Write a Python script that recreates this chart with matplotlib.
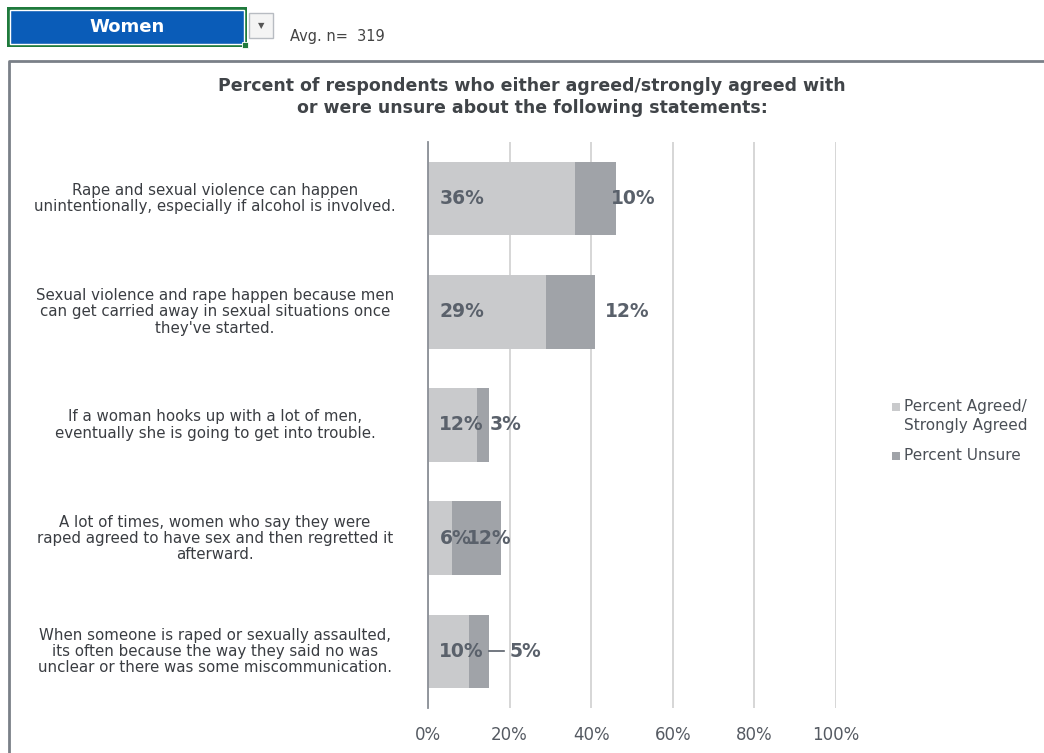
import matplotlib.pyplot as plt
from matplotlib.patches import Rectangle
from matplotlib.lines import Line2D

W, H = 1044, 753

statements = [
    "Rape and sexual violence can happen\nunintentionally, especially if alcohol is involved.",
    "Sexual violence and rape happen because men\ncan get carried away in sexual situations once\nthey've started.",
    "If a woman hooks up with a lot of men,\neventually she is going to get into trouble.",
    "A lot of times, women who say they were\nraped agreed to have sex and then regretted it\nafterward.",
    "When someone is raped or sexually assaulted,\nits often because the way they said no was\nunclear or there was some miscommunication.",
]
agreed = [36, 29, 12, 6, 10]
unsure = [10, 12, 3, 12, 5]
ticks = [0, 20, 40, 60, 80, 100]
tick_labels = ["0%", "20%", "40%", "60%", "80%", "100%"]

c_agree = '#c9cacc'
c_unsure = '#a0a3a8'
c_text = '#5a616b'

fig = plt.figure(figsize=(W / 100, H / 100), dpi=100)

def px(x, y):
    return x / W, 1 - y / H

# header widgets
fig.patches.append(Rectangle(px(7, 47), 240 / W, 40 / H, transform=fig.transFigure,
                             facecolor='#1f7a3c', edgecolor='none'))
fig.patches.append(Rectangle(px(10, 44), 234 / W, 34 / H, transform=fig.transFigure,
                             facecolor='#0a5cb8', edgecolor='white', linewidth=1))
fig.text(*px(127, 27), "Women", color='white', fontsize=13, fontweight='bold',
         ha='center', va='center')
fig.patches.append(Rectangle(px(242, 48), 6 / W, 6 / H, transform=fig.transFigure,
                             facecolor='#1f7a3c', edgecolor='white', linewidth=0.6))
fig.patches.append(Rectangle(px(249, 38), 24 / W, 25 / H, transform=fig.transFigure,
                             facecolor='#f4f4f4', edgecolor='#b8bcc2', linewidth=1))
fig.text(*px(261, 26), "\u25bc", color='#555555', fontsize=6, ha='center', va='center')
fig.text(*px(290, 37), "Avg. n=  319", color='#444444', fontsize=10.5, ha='left', va='center')

# outer frame
fig.lines.append(Line2D([px(9, 0)[0], px(9, 0)[0], 1.0], [0, px(0, 61)[1], px(0, 61)[1]],
                        transform=fig.transFigure, color='#7a8088', linewidth=2))

fig.text(*px(532, 97), "Percent of respondents who either agreed/strongly agreed with\n"
         "or were unsure about the following statements:",
         ha='center', va='center', fontsize=12.5, fontweight='bold', color='#404448',
         linespacing=1.25)

# main axes
l, t = px(428, 142)
r, b = px(836, 708)
ax = fig.add_axes([l, b, r - l, t - b])
ypos = list(range(len(statements)))
ax.barh(ypos, agreed, height=0.65, color=c_agree, zorder=2)
ax.barh(ypos, unsure, left=agreed, height=0.65, color=c_unsure, zorder=2)
ax.set_xlim(0, 100)
ax.set_ylim(len(statements) - 0.5, -0.5)
ax.set_xticks(ticks)
ax.set_xticklabels(tick_labels, fontsize=12, color='#555a62')
ax.set_yticks([])
ax.grid(axis='x', color='#d0d0d0', linewidth=1.2, zorder=0)
for s in ['top', 'right', 'bottom']:
    ax.spines[s].set_visible(False)
ax.spines['left'].set_color('#8a8f96')
ax.spines['left'].set_linewidth(1.3)
ax.spines['left'].set_zorder(3)
ax.tick_params(axis='x', length=0, pad=13)

for i, (a, u) in enumerate(zip(agreed, unsure)):
    ax.text(2.8, i, f"{a}%", ha='left', va='center', fontsize=13.5,
            fontweight='bold', color=c_text, zorder=4)

unsure_x = [44.8, 43.3, 15.2, 9.6, 20.0]
for i, u in enumerate(unsure):
    ax.text(unsure_x[i], i, f"{u}%", ha='left', va='center', fontsize=13.5,
            fontweight='bold', color=c_text, zorder=4)
# leader line for the last small label
ax.plot([agreed[4] + unsure[4], 18.6], [4, 4], color=c_text, linewidth=1.2, zorder=4)

# category labels
for i, s in enumerate(statements):
    yy = 1 - (142 + (i + 0.5) * 113.2) / H
    fig.text(px(215, 0)[0], yy, s, ha='center', va='center', fontsize=10.8,
             color='#3a3d42', linespacing=1.1)

# legend
fig.patches.append(Rectangle(px(892, 411), 8 / W, 8 / H, transform=fig.transFigure,
                             facecolor=c_agree, edgecolor='none'))
fig.text(*px(904, 406), "Percent Agreed/", ha='left', va='center', fontsize=11, color='#4a4f56')
fig.text(*px(904, 425), "Strongly Agreed", ha='left', va='center', fontsize=11, color='#4a4f56')
fig.patches.append(Rectangle(px(892, 460), 8 / W, 8 / H, transform=fig.transFigure,
                             facecolor=c_unsure, edgecolor='none'))
fig.text(*px(904, 456), "Percent Unsure", ha='left', va='center', fontsize=11, color='#4a4f56')

fig.savefig("out.png", dpi=100)
